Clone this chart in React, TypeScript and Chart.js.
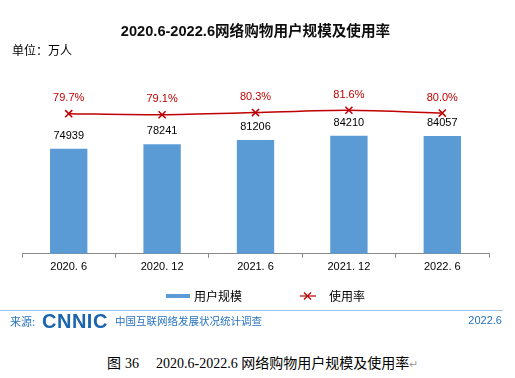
import React, { useEffect, useRef } from "react";
import { Chart, registerables } from "chart.js";

Chart.register(...registerables);

const categories = ["2020. 6", "2020. 12", "2021. 6", "2021. 12", "2022. 6"];
const users = [74939, 78241, 81206, 84210, 84057];
const rates = [79.7, 79.1, 80.3, 81.6, 80.0];
const rateLabels = ["79.7%", "79.1%", "80.3%", "81.6%", "80.0%"];
const titleText = "2020.6-2022.6网络购物用户规模及使用率";

const BAR_COLOR = "#5B9BD5";
const LINE_COLOR = "#C00000";
const FOOT_BLUE = "#2872C0";
const TITLE_FAMILY = "'Liberation Sans', 'Noto Sans CJK SC', sans-serif";

function fitTitleSize(targetWidth: number): number {
  const c = document.createElement("canvas");
  const ctx = c.getContext("2d");
  if (!ctx) return 15;
  ctx.font = `bold 100px ${TITLE_FAMILY}`;
  const w = ctx.measureText(titleText).width;
  if (!w) return 15;
  return Math.round((100 * targetWidth / w) * 10) / 10;
}

const valueLabels = {
  id: "valueLabels",
  afterDatasetsDraw(chart: any) {
    const ctx = chart.ctx;
    ctx.save();
    ctx.textAlign = "center";
    ctx.textBaseline = "middle";
    ctx.font = "11px 'Liberation Sans', Arial, sans-serif";
    const barMeta = chart.getDatasetMeta(0);
    barMeta.data.forEach((el: any, i: number) => {
      ctx.fillStyle = "#000";
      ctx.fillText(String(users[i]), el.x, el.y - 13);
    });
    const lineMeta = chart.getDatasetMeta(1);
    lineMeta.data.forEach((el: any, i: number) => {
      ctx.fillStyle = LINE_COLOR;
      ctx.fillText(rateLabels[i], el.x, el.y - 15.5);
    });
    ctx.restore();
  },
};

function ChartCanvas() {
  const ref = useRef<HTMLCanvasElement | null>(null);
  useEffect(() => {
    if (!ref.current) return;
    const titleSize = fitTitleSize(269);
    const lh = titleSize * 1.2;
    const chart = new Chart(ref.current, {
      type: "bar",
      data: {
        labels: categories,
        datasets: [
          {
            type: "bar",
            label: "用户规模",
            data: users,
            backgroundColor: BAR_COLOR,
            borderWidth: 0,
            barPercentage: 0.4,
            categoryPercentage: 1,
            yAxisID: "y",
            order: 2,
          },
          {
            type: "line",
            label: "使用率",
            data: rates,
            borderColor: LINE_COLOR,
            backgroundColor: LINE_COLOR,
            borderWidth: 1.5,
            pointStyle: "crossRot",
            pointRadius: 5,
            pointBorderWidth: 1.5,
            pointBorderColor: LINE_COLOR,
            tension: 0.25,
            yAxisID: "y2",
            order: 1,
          } as any,
        ],
      },
      options: {
        responsive: false,
        animation: false,
        layout: { padding: { left: 22, right: 26, top: 0, bottom: 13 } },
        plugins: {
          legend: { display: false },
          tooltip: { enabled: false },
          title: {
            display: true,
            text: titleText,
            color: "#0d0d0d",
            font: { family: TITLE_FAMILY, size: titleSize, weight: "bold", lineHeight: 1.2 },
            padding: { top: 32 - lh / 2, bottom: 60 - (32 + lh / 2) },
          },
        },
        scales: {
          x: {
            offset: true,
            grid: {
              display: true,
              offset: true,
              drawOnChartArea: false,
              drawTicks: true,
              tickLength: 4,
              color: "#898989",
            },
            border: { display: true, color: "#898989", width: 1 },
            ticks: {
              color: "#000",
              padding: 3,
              font: { family: "'Liberation Sans', Arial, sans-serif", size: 11 },
              maxRotation: 0,
              autoSkip: false,
            },
          },
          y: { display: false, min: 0, max: 138300 },
          y2: { display: false, position: "right", min: 0, max: 110.2 },
        },
      } as any,
      plugins: [valueLabels],
    });
    return () => chart.destroy();
  }, []);
  return <canvas ref={ref} width={515} height={290} style={{ display: "block", width: 515, height: 290 }} />;
}

const abs = (left: number, top: number, extra: any = {}) => ({
  position: "absolute" as const,
  left,
  top,
  whiteSpace: "pre" as const,
  ...extra,
});

export default function App() {
  const cjk = "'Noto Sans CJK SC', sans-serif";
  return (
    <div style={{ position: "absolute", left: 0, top: 0, width: 515, height: 378, background: "#fff", overflow: "hidden" }}>
      <div style={{ position: "absolute", left: 0, top: 0 }}>
        <ChartCanvas />
      </div>
      <div style={abs(12, 44, { font: `12px ${cjk}`, lineHeight: "12px", color: "#000" })}>单位：万人</div>

      {/* legend */}
      <div style={abs(166, 294, { width: 24, height: 4, background: BAR_COLOR })} />
      <div style={abs(194, 290, { font: `12px ${cjk}`, lineHeight: "12px", color: "#000" })}>用户规模</div>
      <svg style={abs(300, 291)} width={16} height={10}>
        <line x1={0} y1={5} x2={16} y2={5} stroke={LINE_COLOR} strokeWidth={1.2} />
        <line x1={4} y1={1.5} x2={11} y2={8.5} stroke={LINE_COLOR} strokeWidth={1.3} />
        <line x1={11} y1={1.5} x2={4} y2={8.5} stroke={LINE_COLOR} strokeWidth={1.3} />
      </svg>
      <div style={abs(329, 290, { font: `12px ${cjk}`, lineHeight: "12px", color: "#000" })}>使用率</div>

      {/* footer */}
      <div style={abs(0, 310, { width: 503, height: 1, background: "#9DC3E6" })} />
      <div style={abs(10, 315, { font: `11px ${cjk}`, lineHeight: "12px", color: FOOT_BLUE })}>来源:</div>
      <div
        style={abs(42, 310, {
          font: "bold 20px 'Liberation Sans', Arial, sans-serif",
          lineHeight: "22px",
          color: "#1A64B0",
          letterSpacing: "0.5px",
        })}
      >
        CNNIC
      </div>
      <div style={abs(115, 315, { font: `10.5px ${cjk}`, lineHeight: "12px", color: FOOT_BLUE })}>中国互联网络发展状况统计调查</div>
      <div style={{ position: "absolute", right: 13, top: 314, font: "11px 'Liberation Sans', Arial, sans-serif", lineHeight: "12px", color: FOOT_BLUE }}>
        2022.6
      </div>

      {/* caption */}
      <div style={abs(107, 356, { font: `14px 'Liberation Serif', ${cjk}`, lineHeight: "16px", color: "#000" })}>图</div>
      <div style={abs(125, 356, { font: `14px 'Liberation Serif', ${cjk}`, lineHeight: "16px", color: "#000" })}>36</div>
      <div style={abs(156, 356, { font: `14px 'Liberation Serif', ${cjk}`, lineHeight: "16px", color: "#000" })}>
        2020.6-2022.6 网络购物用户规模及使用率
        <span style={{ color: "#A0A0A0", fontSize: 11, fontFamily: "'DejaVu Sans', sans-serif" }}>↵</span>
      </div>
    </div>
  );
}
